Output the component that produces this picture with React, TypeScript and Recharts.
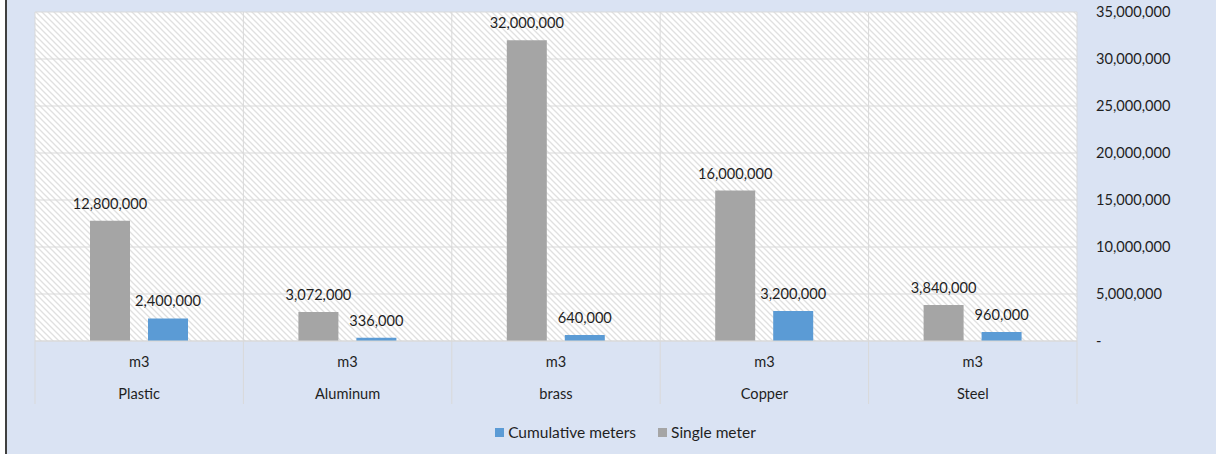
import React from 'react';
import {
    BarChart,
    Bar,
    XAxis,
    YAxis,
    CartesianGrid,
    LabelList,
    Legend
} from 'recharts';

const categories = ['Plastic', 'Aluminum', 'brass', 'Copper', 'Steel'];
const units = ['m3', 'm3', 'm3', 'm3', 'm3'];
const singleMeter = [12800000, 3072000, 32000000, 16000000, 3840000];
const cumulativeMeters = [2400000, 336000, 640000, 3200000, 960000];
const yTicks = [0, 5000000, 10000000, 15000000, 20000000, 25000000, 30000000, 35000000];

const BLUE = '#5b9bd5';
const GRAY = '#a5a5a5';
const TEXT = '#1f1f1f';
const GRID = '#d9d9d9';
const FONT = 'Lato, "Noto Sans", sans-serif';
const FS = 14.6;

const data = categories.map((name, i) => ({
    name,
    unit: units[i],
    single: singleMeter[i],
    cumulative: cumulativeMeters[i]
}));

const fmt = (v: any) => Number(v).toLocaleString('en-US');

// two-row category axis with group separators
const CategoryTick = (props: any) => {
    const { x, y, payload, index, visibleTicksCount } = props;
    const half = payload?.offset ?? 0;
    const unit = units[categories.indexOf(payload.value)] ?? '';
    const isLast = index === visibleTicksCount - 1;
    return (
        <g>
            <line x1={x - half} x2={x - half} y1={y} y2={y + 63} stroke={GRID} strokeWidth={1} />
            {isLast && <line x1={x + half} x2={x + half} y1={y} y2={y + 63} stroke={GRID} strokeWidth={1} />}
            <text x={x} y={y + 26} textAnchor="middle" fill={TEXT} fontSize={FS} fontFamily={FONT}>{unit}</text>
            <text x={x} y={y + 58} textAnchor="middle" fill={TEXT} fontSize={FS} fontFamily={FONT}>{payload.value}</text>
        </g>
    );
};

const LegendContent = () => {
    const items = [
        { label: 'Cumulative meters', color: BLUE },
        { label: 'Single meter', color: GRAY }
    ];
    return (
        <div style={{ height: 24, display: 'flex', justifyContent: 'center', alignItems: 'center', fontFamily: FONT, fontSize: 15.5, color: TEXT }}>
            {items.map(it => (
                <div key={it.label} style={{ display: 'flex', alignItems: 'center', margin: '0 11px' }}>
                    <span style={{ width: 9, height: 9, background: it.color, marginRight: 4, display: 'inline-block' }}></span>
                    <span>{it.label}</span>
                </div>
            ))}
        </div>
    );
};

const App: React.FC = () => {
    return (
        <div style={{ position: 'absolute', left: 0, top: 0, width: 1216, height: 454, background: '#ffffff', overflow: 'hidden' }}>
            <div style={{ position: 'absolute', left: 5, top: 0, width: 1211, height: 454, background: '#dae3f3', borderLeft: '2px solid #404040', boxSizing: 'border-box' }} />
            <svg width={0} height={0} style={{ position: 'absolute' }}>
                <defs>
                    <pattern id="hatch" width={6} height={6} patternUnits="userSpaceOnUse">
                        <rect width={6} height={6} fill="#ffffff" />
                        <path d="M0,0 L6,6 M-1,5 L1,7 M5,-1 L7,1" stroke="#e0e0e0" strokeWidth={1.3} />
                    </pattern>
                </defs>
            </svg>
            <div style={{ position: 'absolute', left: 0, top: 0 }}>
                <BarChart
                    width={1216}
                    height={454}
                    data={data}
                    margin={{ top: 12, right: 0, left: 35, bottom: 10 }}
                    barSize={40}
                    barGap={18}
                >
                    <CartesianGrid
                        stroke={GRID}
                        fill="url(#hatch)"
                        fillOpacity={1}
                        verticalCoordinatesGenerator={({ offset }: any) =>
                            Array.from({ length: categories.length + 1 }, (_, i) => offset.left + (i * offset.width) / categories.length)
                        }
                    />
                    <XAxis
                        dataKey="name"
                        height={79}
                        axisLine={{ stroke: GRID }}
                        tickLine={false}
                        tickSize={0}
                        tickMargin={0}
                        interval={0}
                        tick={<CategoryTick />}
                    />
                    <YAxis
                        orientation="right"
                        width={139}
                        domain={[0, 35000000]}
                        ticks={yTicks}
                        axisLine={false}
                        tickLine={false}
                        tickSize={0}
                        tickMargin={19}
                        tick={{ fill: TEXT, fontSize: FS, fontFamily: FONT, textAnchor: 'start' }}
                        tickFormatter={(v: number) => (v === 0 ? '-' : fmt(v))}
                    />
                    <Legend verticalAlign="bottom" content={<LegendContent />} />
                    <Bar dataKey="single" name="Single meter" fill={GRAY} isAnimationActive={false}>
                        <LabelList dataKey="single" position="top" offset={12} formatter={fmt} fill={TEXT} fontSize={FS} fontFamily={FONT} />
                    </Bar>
                    <Bar dataKey="cumulative" name="Cumulative meters" fill={BLUE} isAnimationActive={false}>
                        <LabelList dataKey="cumulative" position="top" offset={12} formatter={fmt} fill={TEXT} fontSize={FS} fontFamily={FONT} />
                    </Bar>
                </BarChart>
            </div>
        </div>
    );
};

export default App;
